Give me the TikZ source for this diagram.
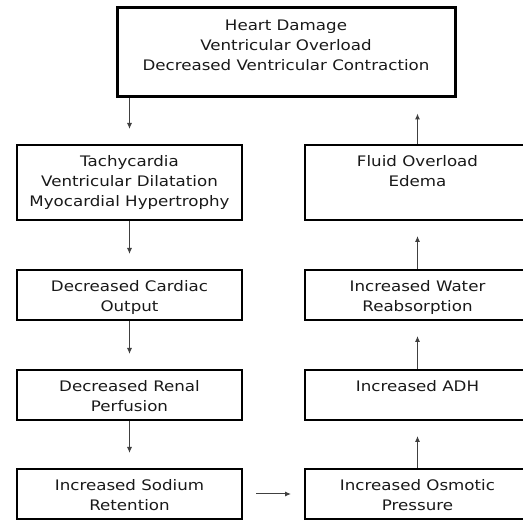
\documentclass[tikz,border=0pt]{standalone}
\usepackage{fontspec}
\setmainfont[FakeStretch=1.15]{DejaVu Sans}
\usetikzlibrary{arrows.meta}
\usetikzlibrary{positioning}

\tikzset{
  box/.style={draw, line width=2pt, minimum width=225pt, minimum height=50pt, inner sep=0pt},
  boxtext/.style={anchor=north, align=center, inner sep=0pt, yshift=-11pt, text=black!90,
    font=\fontsize{14.5}{20}\selectfont},
  flow/.style={-{Latex[length=6pt,width=5pt]}, black!75, line width=1pt, shorten >=15pt},
}

\begin{document}
\begin{tikzpicture}[x=1pt, y=1pt]
  \clip (0,0) rectangle (523,520);
  \useasboundingbox (0,0) rectangle (523,520);

  \node[box, line width=3pt, minimum width=338pt, minimum height=89pt,
    label={[boxtext, yshift=-2pt]north:Heart Damage\\Ventricular Overload\\Decreased Ventricular Contraction}] (damage) at (286,467.5) {};

  % left column, going down
  \node[box, minimum height=75pt,
    label={[boxtext]north:Tachycardia\\Ventricular Dilatation\\Myocardial Hypertrophy}] (tachy) at (129.5,337.5) {};
  \node[box, label={[boxtext]north:Decreased Cardiac\\Output}] (output) [below=48pt of tachy] {};
  \node[box, label={[boxtext]north:Decreased Renal\\Perfusion}] (renal) [below=48pt of output] {};
  \node[box, label={[boxtext]north:Increased Sodium\\Retention}] (sodium) [below=47pt of renal] {};

  % right column, going up
  \node[box, minimum height=75pt,
    label={[boxtext]north:Fluid Overload\\Edema}] (fluid) [right=61pt of tachy] {};
  \node[box, label={[boxtext]north:Increased Water\\Reabsorption}] (water) [right=61pt of output] {};
  \node[box, label={[boxtext]north:Increased ADH}] (adh) [right=61pt of renal] {};
  \node[box, label={[boxtext]north:Increased Osmotic\\Pressure}] (osmotic) [right=61pt of sodium] {};

  \draw[flow] (damage.south -| tachy) -- (tachy);
  \draw[flow] (tachy) -- (output);
  \draw[flow] (output) -- (renal);
  \draw[flow] (renal) -- (sodium);
  \draw[flow, shorten <=13pt, shorten >=13pt] (sodium) -- (osmotic);
  \draw[flow] (osmotic) -- (adh);
  \draw[flow] (adh) -- (water);
  \draw[flow] (water) -- (fluid);
  \draw[flow] (fluid) -- (fluid |- damage.south);
\end{tikzpicture}
\end{document}
